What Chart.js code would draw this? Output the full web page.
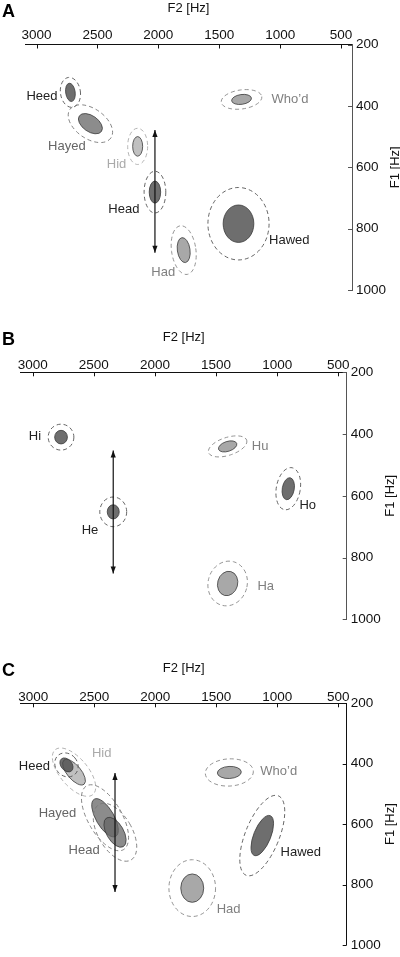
<!DOCTYPE html>
<html>
<head>
<meta charset="utf-8">
<script src="https://cdn.jsdelivr.net/npm/chart.js@4.4.1/dist/chart.umd.min.js"></script>
<style>
  html, body { margin: 0; padding: 0; background: #fff; }
  body { width: 400px; height: 957px; position: relative; overflow: hidden; }
  .panel { position: absolute; left: 0; width: 400px; }
  #wrapA { top: 0; height: 320px; }
  #wrapB { top: 320px; height: 320px; }
  #wrapC { top: 640px; height: 317px; }
</style>
</head>
<body>
<div class="panel" id="wrapA"><canvas id="chartA"></canvas></div>
<div class="panel" id="wrapB"><canvas id="chartB"></canvas></div>
<div class="panel" id="wrapC"><canvas id="chartC"></canvas></div>
<script>
const f2Ticks = [500, 1000, 1500, 2000, 2500, 3000];
const f1Ticks = [200, 400, 600, 800, 1000];

// A: hVd words
const wordsA = ['Heed', 'Hayed', 'Hid', 'Head', 'Had', 'Hawed', 'Who\u2019d'];
const f2A = [2722, 2558, 2170, 2028, 1792, 1342, 1317];
const f1A = [356, 458, 532, 681, 870, 784, 379];
const sd2A = [39, 111, 41, 47, 52, 126, 82];
const sd1A = [30, 26, 32, 36, 41, 61, 16];
const out2A = [82, 205, 82, 89, 100, 251, 168];
const out1A = [49, 49, 59, 68, 80, 118, 31];
const tiltA = [-8, 35, 0, 0, -8, 0, -8];
const labF2A = [2956, 2751, 2343, 2283, 1960, 925, 919];
const labF1A = [368, 533, 590, 737, 944, 837, 378];
const arrowA = [2028, 479, 879];

// B: hV syllables
const wordsB = ['Hi', 'He', 'Hu', 'Ho', 'Ha'];
const f2B = [2768, 2341, 1405, 909, 1405];
const f1B = [410, 652, 440, 577, 884];
const sd2B = [52, 49, 78, 49, 82];
const sd1B = [22, 23, 16, 36, 40];
const out2B = [105, 110, 164, 98, 160];
const out1B = [42, 48, 29, 69, 73];
const tiltB = [0, 0, -18, 10, 15];
const labF2B = [2981, 2531, 1139, 750, 1093];
const labF1B = [408, 712, 440, 631, 892];
const arrowB = [2341, 453, 852];

// C: hVd words, second set
const wordsC = ['Hid', 'Heed', 'Hayed', 'Head', 'Who\u2019d', 'Hawed', 'Had'];
const f2C = [2666, 2728, 2412, 2330, 1393, 1123, 1697];
const f1C = [428, 404, 579, 627, 429, 638, 812];
const sd2C = [57, 45, 74, 70, 98, 70, 94];
const sd1C = [52, 26, 71, 55, 20, 71, 47];
const out2C = [115, 90, 139, 139, 197, 139, 191];
const out1C = [97, 42, 122, 106, 45, 142, 94];
const tiltC = [-40, -40, -30, -30, -3, 22, 0];
const labF2C = [2439, 2991, 2802, 2583, 988, 807, 1399];
const labF1C = [366, 408, 565, 686, 425, 694, 882];
const arrowC = [2330, 431, 825];

const FONT = "'Liberation Sans', Arial, Helvetica, sans-serif";

const tones = {
  dark:  { fill: 'rgba(74,74,74,0.8)',    text: '#222', dash: '#555' },
  mid:   { fill: 'rgba(102,102,102,0.75)', text: '#666', dash: '#777' },
  light: { fill: 'rgba(139,139,139,0.75)', text: '#808080', dash: '#888' },
  pale:  { fill: 'rgba(171,171,171,0.75)', text: '#aaa', dash: '#aaa' }
};
const toneA = ['dark', 'mid', 'pale', 'dark', 'light', 'dark', 'light'];
const toneB = ['dark', 'dark', 'light', 'dark', 'light'];
const toneC = ['pale', 'dark', 'mid', 'mid', 'light', 'dark', 'light'];

const boxA = { top: 44.5, bottom: 290, left: 25, right: 352, min: 410, max: 3095, tickPad: 1.5, titleY: 8.3, letterY: 17, f1X: 395, yColor: '#555' };
const boxB = { top: 52.3, bottom: 299.3, left: 20.7, right: 346.7, min: 431, max: 3098, tickPad: -0.8, titleY: 17, letterY: 25, f1X: 390, yColor: '#555' };
const boxC = { top: 63.3, bottom: 311.7, left: 20.7, right: 346.7, min: 431, max: 3103, tickPad: -2, titleY: 28.7, letterY: 36, f1X: 390, yColor: '#111' };

function decor(letter, d, box) {
  return {
    id: 'decor' + letter,
    beforeDatasetsDraw(chart) {
      const { ctx, scales: { x, y } } = chart;
      const pts = chart.getDatasetMeta(0).data;
      const half = (s, v, r) => Math.abs(s.getPixelForValue(v + r) - s.getPixelForValue(v));
      ctx.save();
      d.f2.forEach((v, i) => {
        const t = tones[d.tone[i]];
        ctx.beginPath();
        ctx.ellipse(pts[i].x, pts[i].y, half(x, v, d.sd2[i]), half(y, d.f1[i], d.sd1[i]), d.tilt[i] * Math.PI / 180, 0, Math.PI * 2);
        ctx.fillStyle = t.fill;
        ctx.fill();
        ctx.strokeStyle = '#3a3a3a';
        ctx.lineWidth = 0.8;
        ctx.stroke();
      });
      ctx.setLineDash([4, 3]);
      d.f2.forEach((v, i) => {
        const t = tones[d.tone[i]];
        ctx.beginPath();
        ctx.ellipse(pts[i].x, pts[i].y, half(x, v, d.out2[i]), half(y, d.f1[i], d.out1[i]), d.tilt[i] * Math.PI / 180, 0, Math.PI * 2);
        ctx.strokeStyle = t.dash;
        ctx.lineWidth = 0.9;
        ctx.stroke();
      });
      ctx.setLineDash([]);
      ctx.font = '13px ' + FONT;
      ctx.textAlign = 'center';
      ctx.textBaseline = 'middle';
      d.words.forEach((w, i) => {
        ctx.fillStyle = tones[d.tone[i]].text;
        ctx.fillText(w, x.getPixelForValue(d.labF2[i]), y.getPixelForValue(d.labF1[i]));
      });
      ctx.restore();
    },
    afterDatasetsDraw(chart) {
      const { ctx, chartArea: a, scales: { x, y } } = chart;
      const [p0, p1] = chart.getDatasetMeta(1).data;
      ctx.save();
      ctx.fillStyle = '#111';
      [[p0, p1], [p1, p0]].forEach(([tip, other]) => {
        const dir = tip.y < other.y ? 1 : -1;
        ctx.beginPath();
        ctx.moveTo(tip.x, tip.y);
        ctx.lineTo(tip.x - 2.6, tip.y + dir * 7);
        ctx.lineTo(tip.x + 2.6, tip.y + dir * 7);
        ctx.closePath();
        ctx.fill();
      });
      // inward tick marks
      ctx.lineWidth = 1;
      ctx.strokeStyle = '#111';
      f2Ticks.forEach(v => {
        const px = Math.round(x.getPixelForValue(v)) + 0.5;
        ctx.beginPath();
        ctx.moveTo(px, a.top);
        ctx.lineTo(px, a.top + 4);
        ctx.stroke();
      });
      ctx.strokeStyle = box.yColor;
      f1Ticks.forEach(v => {
        const py = Math.round(y.getPixelForValue(v)) + 0.5;
        ctx.beginPath();
        ctx.moveTo(a.right - 4, py);
        ctx.lineTo(a.right, py);
        ctx.stroke();
      });
      // y title reads upward
      ctx.fillStyle = '#111';
      ctx.font = '13px ' + FONT;
      ctx.textAlign = 'center';
      ctx.textBaseline = 'middle';
      ctx.translate(box.f1X, (a.top + a.bottom) / 2);
      ctx.rotate(-Math.PI / 2);
      ctx.fillText('F1 [Hz]', 0, 0);
      ctx.restore();
      ctx.save();
      ctx.font = 'bold 18px ' + FONT;
      ctx.fillStyle = '#000';
      ctx.textAlign = 'left';
      ctx.textBaseline = 'alphabetic';
      ctx.fillText(letter, 2, box.letterY);
      ctx.restore();
    }
  };
}

function buildChart(id, letter, d, box, height) {
  const centers = d.f2.map((v, i) => ({ x: v, y: d.f1[i] }));
  const arrow = [{ x: d.arrow[0], y: d.arrow[1] }, { x: d.arrow[0], y: d.arrow[2] }];
  return new Chart(document.getElementById(id), {
    type: 'scatter',
    data: {
      datasets: [
        { data: centers, pointRadius: 0, pointHoverRadius: 0 },
        { data: arrow, showLine: true, borderColor: '#111', borderWidth: 1.2, pointRadius: 0, pointHoverRadius: 0 }
      ]
    },
    options: {
      responsive: true,
      maintainAspectRatio: false,
      animation: false,
      events: [],
      layout: { padding: { left: box.left, right: 0, top: 0, bottom: height - box.bottom } },
      plugins: { legend: { display: false }, tooltip: { enabled: false } },
      scales: {
        x: {
          type: 'linear',
          position: 'top',
          reverse: true,
          min: box.min,
          max: box.max,
          afterBuildTicks: s => { s.ticks = f2Ticks.map(v => ({ value: v })); },
          afterFit: s => { s.height = box.top; },
          grid: { display: false, drawTicks: false },
          border: { display: true, color: '#111', width: 1 },
          ticks: { color: '#111', padding: box.tickPad, maxRotation: 0, callback: v => String(v), font: { family: FONT, size: 13.5 } },
          title: { display: true, text: 'F2 [Hz]', color: '#111', padding: { top: box.titleY - 7.8, bottom: 0 }, font: { family: FONT, size: 13 } }
        },
        y: {
          type: 'linear',
          position: 'right',
          reverse: true,
          min: 200,
          max: 1000,
          afterBuildTicks: s => { s.ticks = f1Ticks.map(v => ({ value: v })); },
          afterFit: s => { s.width = 400 - box.right; },
          grid: { display: false, drawTicks: false },
          border: { display: true, color: box.yColor, width: 1 },
          ticks: { color: '#111', padding: 4, callback: v => String(v), font: { family: FONT, size: 13.5 } }
        }
      }
    },
    plugins: [decor(letter, d, box)]
  });
}

buildChart('chartA', 'A', {
  words: wordsA, f2: f2A, f1: f1A, sd2: sd2A, sd1: sd1A, out2: out2A, out1: out1A,
  tilt: tiltA, labF2: labF2A, labF1: labF1A, arrow: arrowA, tone: toneA
}, boxA, 320);

buildChart('chartB', 'B', {
  words: wordsB, f2: f2B, f1: f1B, sd2: sd2B, sd1: sd1B, out2: out2B, out1: out1B,
  tilt: tiltB, labF2: labF2B, labF1: labF1B, arrow: arrowB, tone: toneB
}, boxB, 320);

buildChart('chartC', 'C', {
  words: wordsC, f2: f2C, f1: f1C, sd2: sd2C, sd1: sd1C, out2: out2C, out1: out1C,
  tilt: tiltC, labF2: labF2C, labF1: labF1C, arrow: arrowC, tone: toneC
}, boxC, 317);
</script>
</body>
</html>
